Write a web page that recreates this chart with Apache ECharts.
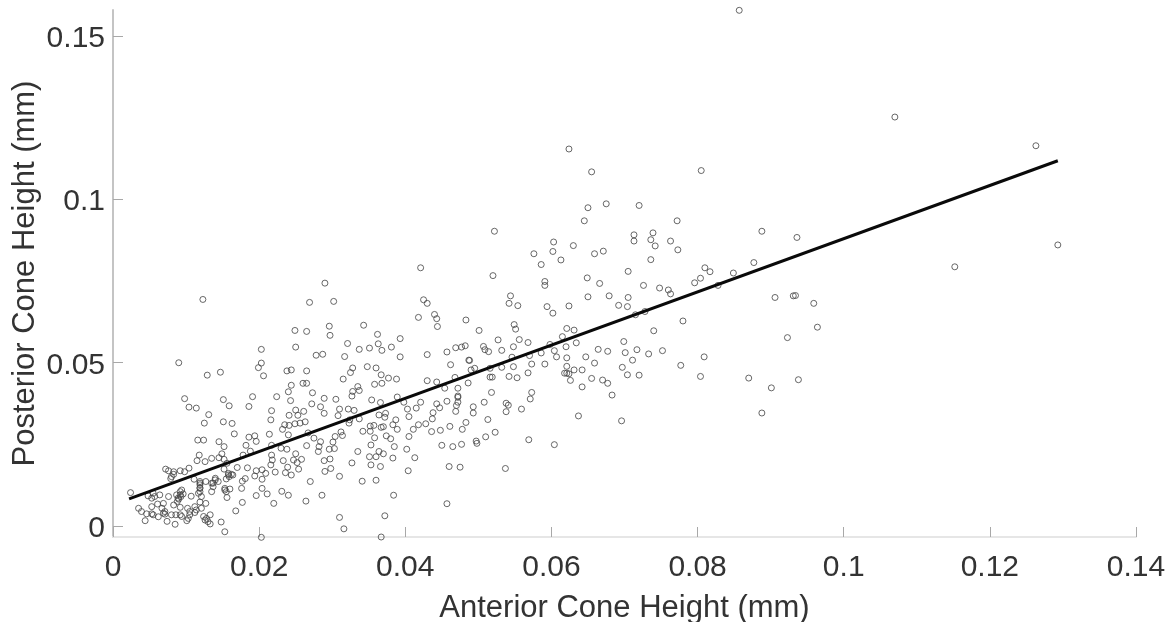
<!DOCTYPE html>
<html>
<head>
<meta charset="utf-8">
<style>html,body{margin:0;padding:0;background:#fff}#c{width:1174px;height:622px}</style>
<script src="https://cdn.jsdelivr.net/npm/echarts@6/dist/echarts.min.js"></script>
</head>
<body>
<div id="c"></div>
<script>
// anterior, posterior cone height, in thousandths of a mm
const conePoints = [
[129.3,86.1],[115.2,79.4],[107,125.3],[126.3,116.5],[85.7,158],[62.4,115.5],[65.5,108.5],[80.5,108.9],
[88.8,90.3],[93.6,88.4],[87.7,80.7],[81,79.1],[84.9,77.5],[90.6,70],[93.1,70.5],[93.4,70.6],[95.9,68.2],[96.4,60.9],[92.3,57.7],[87,45.3],[90.1,42.3],[93.8,44.8],[88.8,34.6],
[52.2,90.3],[65,97.5],[67.5,98.7],[72,98.2],[64.5,93.5],[77.2,93.5],[71.3,89.2],[73.9,89.8],[60.3,87],[63,85.9],[71.3,87.3],[73.6,87.7],[74.2,85.8],[76.3,87.3],[77.3,84.6],[57.6,83.4],[60.2,84.1],[65.9,83.4],[67.1,84.2],[61.3,81.5],[58.6,80.1],[73.6,81.6],[52,76.7],[70.5,78],[64.9,76],[59.1,74.9],[59.1,73.7],[66.6,74.3],[72.6,73.7],[74.8,72.9],[76,72.3],[76.3,71.1],[79.6,74.5],[80.4,75.9],[81.7,77.9],[82.8,73.7],
[54.4,70.5],[54.2,68.2],[55.4,67.5],[59.4,67.2],[60.2,65.2],[62.4,67.4],[65,70.2],[67.9,70.5],[70.5,70],[69.2,67.6],[70.4,67.2],[71.5,64.7],[72.8,65.7],[78,62.8],[54.9,61.7],[55.1,60.3],[50.1,59.9],[62.1,60.5],[63.1,60],[61.5,58],[74,59.8],[52.7,57],[55.6,57.1],[56.8,56.2],[50.7,55],[50.9,54],[51.4,53.4],[53.2,53.8],[54.8,54.9],[59.8,55.6],[63.4,56.1],[62,54.9],[60.4,53.7],[69.9,56.5],[66.4,54.1],[67.7,53.5],[70.1,53.1],[71.7,54],[73.3,52.7],[75.2,53.7],[80.9,51.8],[58.6,53],[57,52.2],[54.6,51.7],[60.7,51.8],[62.1,51.5],[64.7,51.8],[71.1,50.8],[65.9,49.9],[57.3,49.6],[59.1,49.6],[54.8,48.8],[53.2,48.6],[51.6,48.3],[49.5,48.3],[48.8,50.7],[62.1,48.9],[69.7,48.6],[77.7,49.2],[63.1,47.8],[64.2,47.8],[62.1,46.8],[61.8,46.8],[62.4,46.6],[56.8,46.9],[54.2,45.8],[55.3,45.4],[51.6,45.6],[51.9,45.6],[62.6,44.6],[65.5,45.2],[67,44.7],[67.7,43.7],[70.4,46.3],[72,46.2],[80.4,45.8],[64.2,42.6],[68.3,40.1],[51.8,40.9],[57.3,40.9],[57.1,38.9],[50.8,37.9],[53.8,37.6],[54.1,37],[49.3,36.5],[49.3,34.6],[53.8,35],[55.9,35.8],[51.3,32.6],[63.7,33.7],[69.6,32.2],[52.3,28.7],[51,27.3],[49.7,26],[49.8,25.3],[56.9,26.4],[60.4,24.9],[53.7,17.6],
[42.1,79.1],[29,74.4],[26.9,68.5],[30.2,68.8],[42.5,69.3],[43,68.2],[44,64.8],[44.3,63.5],[41.8,63.9],[48.3,63.1],[44.4,61.1],[29.6,61.2],[34.3,61.5],[24.9,59.9],[26.5,59.6],[29.7,58.4],[36.2,58.7],[39.3,57.4],[32.1,55.9],[36.3,55.8],[25,54.8],[33.7,54.1],[35.1,54.5],[36.8,53.8],[38.1,54.8],[46.9,54.6],[47.7,54.8],[48.2,55.2],[45.7,53.3],[27.8,52.3],[28.7,52.6],[31.7,51.9],[39.3,51.8],[43,52.5],[48.7,50.8],[46.2,49.4],[34.8,48.8],[36,48.4],[32.8,48.4],[32.5,47],[23.8,47.5],[24.4,47.8],[26.5,47.5],[49,47.8],[36.7,46.3],[37.7,45.3],[38.8,45],[31.5,45],[46.8,45.5],[43,44.5],[44.3,44.1],[35.8,43.4],[36.8,43.7],[24.4,43.1],[26,43.7],[26.5,43.7],[48.6,43.8],[45.4,42.2],[33.5,42.7],[33.7,41.5],[32.8,41.2],[27.3,40.8],[24,41.1],[47.2,42.2],[28.9,39.1],[30.5,38.8],[32.7,39.8],[38.9,39.5],[47.2,39.8],[47.2,39.4],[35.4,38.6],[36.6,37.8],[39.8,37.9],[42.1,37.9],[45.7,38.2],[47.2,37.9],[24.3,38.4],[27.2,37.4],[28.4,36.5],[31,35.8],[32.2,35.8],[33,35.4],[44.3,37.4],[44.7,36.2],[47,36.9],[25,35.5],[26.1,35.1],[28.9,34.5],[40.3,35.8],[41.5,36.1],[43.8,34.7],[46.9,35.1],[24.1,33.9],[25.3,33.9],[30.8,33.8],[36.4,34],[37.3,34.5],[37.2,33.3],[40.5,33.5],[33.7,32.8],[32.4,32.5],[32.3,31.5],[43.7,32.8],[38.7,32.5],[26.3,31.9],[25.6,31.5],[24.9,31.3],[24.1,30.8],[23.2,29.6],[23.5,31],[35.2,30.6],[35.7,30.8],[37,30.4],[38.3,31],[41.8,31],[42.8,31.3],[48.3,31.7],[46.1,30.5],[41.1,29.6],[38.9,29.6],[36.7,30.2],[34.2,29],[35.2,29],[31.2,28.8],[43.6,28.9],[44.8,29.3],[47.8,29.6],[26.7,28.5],[24,27.9],[37.4,27.6],[40.5,27.4],[35.8,27],[38,26.7],[27.5,26.9],[30.4,27.4],[31.4,27.7],[28.4,25.8],[30.1,25.7],[26.5,24.6],[28.2,24.3],[35.3,24.8],[38.5,24.3],[45,24.7],[46.5,24.3],[47.7,25],[40.2,23.5],[30.3,23.7],[29.6,23.5],[23.8,23.5],[23,23.8],[25,22.1],[28.1,22.8],[33.5,22.8],[36.4,22.8],[37,22.1],[35.1,21.2],[36,21.2],[38.3,20.8],[41.3,20.9],[24.7,20.2],[25.8,20.4],[29.7,20.5],[28.9,20],[23.3,20],[25.2,19.4],[32.7,19.3],[35.3,18.7],[36.6,18.2],[23.9,18],[25.4,17.4],[29.8,17.6],[29,16.7],[40.4,16.9],[46,18.2],[47.5,18],[23.6,16.3],[24.4,15.6],[31,15.2],[27,13.6],[34.1,13.7],[36,14],[23.1,10.6],[24,9.4],[28.6,9.4],[26.4,7.6],[38.4,9.4],[45.7,6.8],[31,2.6],[37.2,3.1],[31.6,-0.9],[36.7,-3.4],
[12.3,69.4],[9,50],[20.3,54.1],[20.3,49.9],[19.9,48.5],[20.6,46],[12.9,46.2],[14.7,47.1],
[9.8,39],[15.1,38.7],[19.1,39.6],[22.4,39.6],[10.4,36.4],[11.4,36.1],[15.9,36.8],[18.6,36.6],[13.1,34.1],[21.7,35.3],[21.6,32.5],[12.5,31.5],[15.1,31.9],[16.3,31.4],[16.6,28.2],[21.4,28.1],[19.4,27.6],[19.6,25.9],[18.6,27.2],[11.6,26.3],[12.4,26.3],[14.5,25.8],[15.2,24.3],[18.2,24.7],[21.7,24.7],[18.8,22.9],[17.8,21.7],[14.9,22.1],[11.8,21.7],[11.5,20],[12.6,19.7],[14.5,20.9],[13.5,20.7],[15.2,20.4],[15.6,19.2],[21.7,21.7],[21.8,20.2],[21.6,18.7],[7.2,17.4],[7.6,16.9],[8.3,16.6],[9.2,16.9],[10.4,17.7],[9.8,16.6],[7.9,14.5],[8.3,15.8],[15.2,17.4],[17,17.9],[18.4,17.8],[20.4,17.2],[19.6,16.9],[20.9,16.1],[19.4,15.3],[20.4,14.3],[22.2,16.5],[16.4,15.6],[15.9,15.1],[15.5,14.4],[18.1,14.5],[17.7,13.7],[11.1,14.3],[11.9,13.6],[12.7,13.6],[14,14.6],[13.5,13.1],[14.4,13.6],[11.9,11.7],[13.5,10.5],[15.3,11.5],[16,11.3],[17.6,11.5],[20.4,11.5],[11.9,10.5],[15.5,10.5],[9.4,11],[9.6,9.8],[10.7,9.1],[11.7,10],[2.4,10.2],[5.5,10],[6.4,9.5],[7.6,9],[9.3,9],[9,8.2],[8.8,7.5],[5.3,8.5],[15.6,8.7],[19.6,9.3],[21.1,9.8],[17.7,7.2],[11.9,7.3],[12.7,6.9],[11.2,5.9],[8.3,6.4],[6.1,6.7],[5.3,5.9],[6.7,5.4],[3.5,5.4],[9.2,5.7],[10.2,5.4],[12.1,5.4],[22,6.9],[16.8,4.6],[3.9,4.4],[4.6,3.7],[5.3,3.7],[6.2,2.8],[7.1,3.6],[8.6,3.4],[9.4,2.9],[10.5,3.4],[11.2,4.1],[12.4,2.9],[13.3,3.4],[4.4,1.6],[7.4,1.4],[8.5,0.5],[10.1,1.6],[13,1.3],[13.3,0.6],[14.8,1.2],[15.3,-1.8],[20.3,-3.5],
[4.8,9.2],[6.9,6.9],[7.1,4.4],[8,3.4],[10.5,4.4],[12.1,9],[12.6,1.8],[13.7,12],[15.8,16.1],[11.9,12.6],[8.7,9.5],[9.2,10.5],
[8.9,8.5],[9.2,9.5],[11.9,11.5],[11.9,13.1],[13.7,13.1],[14,14.1],[15.8,15.6],[16.2,15.8],[15.3,11],[10.3,2.3],[6.9,3.9],[5.5,3.4],[9.2,3.4],[12.8,2.3],[11.4,4.9],[8,15.1],[5.7,9]
];
const fitLine = [[0.0022,0.0083],[0.1293,0.1119]];
const xTicks = [0,0.02,0.04,0.06,0.08,0.1,0.12,0.14];
const yTicks = [0,0.05,0.1,0.15];
const xTitle = 'Anterior Cone Height (mm)';
const yTitle = 'Posterior Cone Height (mm)';

const font = '"Liberation Sans", Arial, sans-serif';
const chart = echarts.init(document.getElementById('c'), null, {renderer:'canvas'});
const fmt = v => String(+v.toFixed(2));
chart.setOption({
  animation:false,
  backgroundColor:'#fff',
  grid:{left:113,right:38,top:10,bottom:85,containLabel:false,outerBoundsMode:'none'},
  xAxis:{
    type:'value',min:0,max:0.14,
    name:xTitle,nameLocation:'middle',nameGap:56,nameMoveOverlap:false,
    nameTextStyle:{fontFamily:font,fontSize:31,color:'#333'},
    axisLine:{show:true,onZero:false,lineStyle:{color:'#e6e6e6',width:2}},
    axisTick:{show:true,inside:true,length:10,customValues:xTicks,lineStyle:{color:'#a8a8a8',width:1}},
    axisLabel:{margin:16,fontFamily:font,fontSize:30,color:'#333',customValues:xTicks,formatter:fmt},
    splitLine:{show:false}
  },
  yAxis:{
    type:'value',min:-0.0034,max:0.1581,
    name:yTitle,nameLocation:'middle',nameGap:72,nameMoveOverlap:false,
    nameTextStyle:{fontFamily:font,fontSize:31,color:'#333'},
    axisLine:{show:true,onZero:false,lineStyle:{color:'#c4c4c4',width:2}},
    axisTick:{show:true,inside:true,length:10,customValues:yTicks,lineStyle:{color:'#a8a8a8',width:1}},
    axisLabel:{margin:8,fontFamily:font,fontSize:30,color:'#333',customValues:yTicks,
      formatter:v=>'{a|'+fmt(v)+'}',
      rich:{a:{fontFamily:font,fontSize:30,color:'#333',padding:[5,0,0,0]}}},
    splitLine:{show:false}
  },
  series:[
    {type:'scatter',clip:false,silent:true,symbol:'circle',symbolSize:6,
     data:conePoints.map(p=>[p[0]/1000,p[1]/1000]),
     itemStyle:{color:'rgba(255,255,255,0)',borderColor:'#444',borderWidth:0.9,opacity:0.9}},
    {type:'line',data:fitLine,symbol:'none',silent:true,clip:false,z:5,
     lineStyle:{color:'#0a0a0a',width:3}}
  ]
});
</script>
</body>
</html>
